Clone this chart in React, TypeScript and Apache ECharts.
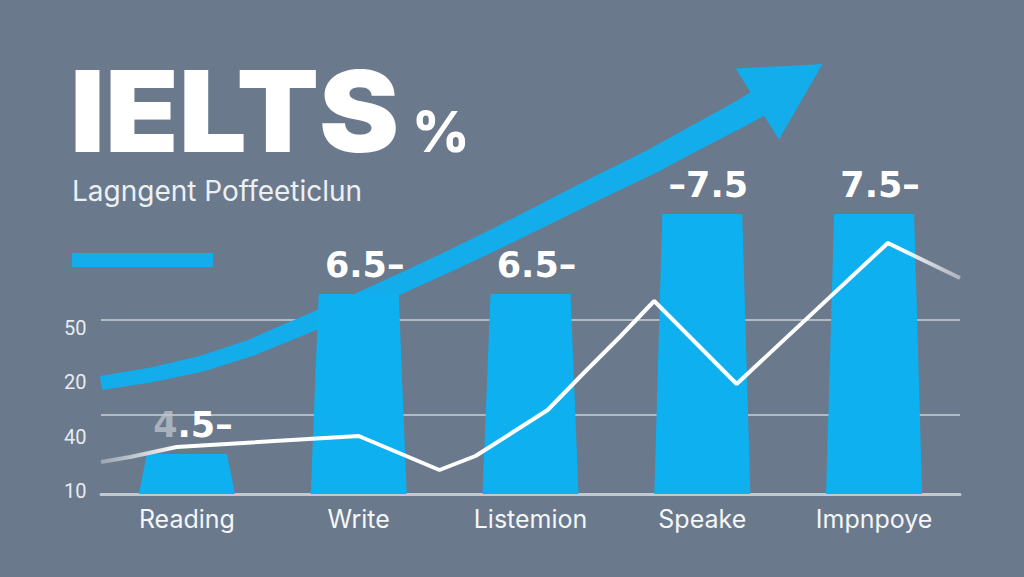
import React, { useEffect, useRef } from "react";
import * as echarts from "echarts";

// Skill areas along the bottom axis
const categories = ["Reading", "Write", "Listemion", "Speake", "Impnpoye"];
// Band score for each skill (drawn as the tapered columns)
const bandScores = [4.5, 6.5, 6.5, 7.5, 7.5];
// Which side of the number the dash of each score label sits on
const dashSide = ["after", "after", "after", "before", "after"];
// Score label whose leading digit is drawn faded
const fadedLeadIndex = 0;
// Tick labels of the small scale on the left, bottom to top
const scaleTicks = ["10", "40", "20", "50"];

// Progress line: [position along the skills, level]
const progressLine = [
  [-0.5, 8],
  [-0.33, 9.25],
  [-0.06, 11.75],
  [1.0, 14.5],
  [1.47, 6],
  [1.68, 9.5],
  [1.89, 15.25],
  [2.1, 21],
  [2.31, 30.25],
  [2.52, 39.25],
  [2.72, 48.25],
  [3.2, 27.5],
  [4.08, 62.75],
  [4.5, 54],
];

// Rising trend arrow centreline on the same scale; the last point is the tip
const trendArrow = [
  [-0.5, 27.75],
  [-0.21, 29.75],
  [0.08, 32.5],
  [0.37, 36.5],
  [0.66, 41.75],
  [0.95, 47],
  [1.24, 52.5],
  [1.53, 58.25],
  [1.82, 64.25],
  [2.11, 70.5],
  [2.4, 76.75],
  [2.7, 83],
  [2.99, 89.75],
  [3.22, 95],
  [3.32, 97.5],
  [3.7, 107.5],
];

// Horizontal guide lines on the level scale
const guideLevels = [19.75, 43.5];

const SCORE_MIN = 4;
const SCORE_MAX = 9.5;
const LEVEL_MAX = 110;

const BG = "#6a798c";
const BLUE = "#0fb0f0";
const ARROW_BLUE = "#12adea";
const TEXT = "#f4f6f8";

function arrowPolygon(api: any) {
  const pts = trendArrow.map((p) => api.coord(p));
  const shaft = pts.slice(0, pts.length - 1);
  const tip = pts[pts.length - 1];
  const startHalf = 7;
  const endHalf = 13.5;
  const headHalf = 41.5;
  const upper: number[][] = [];
  const lower: number[][] = [];
  shaft.forEach((p: number[], i: number) => {
    const a = shaft[Math.max(0, i - 1)];
    const b = shaft[Math.min(shaft.length - 1, i + 1)];
    let dx = b[0] - a[0];
    let dy = b[1] - a[1];
    const len = Math.hypot(dx, dy) || 1;
    dx /= len;
    dy /= len;
    const half = startHalf + ((endHalf - startHalf) * i) / (shaft.length - 1);
    upper.push([p[0] + dy * half, p[1] - dx * half]);
    lower.push([p[0] - dy * half, p[1] + dx * half]);
  });
  const base = shaft[shaft.length - 1];
  let hx = tip[0] - base[0];
  let hy = tip[1] - base[1];
  const hl = Math.hypot(hx, hy) || 1;
  hx /= hl;
  hy /= hl;
  const barbUp = [base[0] + hy * headHalf, base[1] - hx * headHalf];
  const barbDown = [base[0] - hy * headHalf, base[1] + hx * headHalf];
  return [...upper, barbUp, tip, barbDown, ...lower.reverse()];
}

export default function App() {
  const ref = useRef<HTMLDivElement>(null);

  useEffect(() => {
    if (!ref.current) return;
    const chart = echarts.init(ref.current, undefined, { renderer: "svg" });

    const labelFont = 'bold 35px "DejaVu Sans"';

    const option: any = {
      animation: false,
      backgroundColor: BG,
      grid: [
        { left: 101, right: 64, top: 54, bottom: 83 },
        { left: 90, width: 10, top: 328, bottom: 86 },
      ],
      xAxis: [
        {
          type: "category",
          gridIndex: 0,
          data: categories,
          boundaryGap: true,
          axisLine: { onZero: false, lineStyle: { color: "#c3c9d1", width: 3 } },
          axisTick: { show: false },
          axisLabel: {
            color: TEXT,
            fontFamily: "Inter",
            fontSize: 25,
            margin: 12,
          },
        },
        {
          type: "value",
          gridIndex: 0,
          min: -0.5,
          max: 4.5,
          show: false,
        },
        { type: "value", gridIndex: 1, show: false },
      ],
      yAxis: [
        {
          type: "value",
          gridIndex: 0,
          min: SCORE_MIN,
          max: SCORE_MAX,
          show: false,
        },
        {
          type: "value",
          gridIndex: 0,
          min: 0,
          max: LEVEL_MAX,
          show: false,
        },
        {
          type: "category",
          gridIndex: 1,
          data: scaleTicks,
          boundaryGap: false,
          axisLine: { show: false },
          axisTick: { show: false },
          splitLine: { show: false },
          axisLabel: {
            color: "#e8ecf0",
            fontFamily: "Roboto",
            fontSize: 20,
            align: "left",
            margin: 26,
          },
        },
      ],
      series: [
        {
          // guide lines
          type: "custom",
          xAxisIndex: 1,
          yAxisIndex: 1,
          z: 0,
          silent: true,
          data: guideLevels.map((v) => [-0.5, v]),
          renderItem: (params: any, api: any) => {
            const v = api.value(1);
            const a = api.coord([-0.5, v]);
            const b = api.coord([4.5, v]);
            return {
              type: "line",
              shape: { x1: a[0], y1: a[1], x2: b[0], y2: b[1] },
              style: { stroke: "rgba(196,202,210,0.8)", lineWidth: 2 },
            };
          },
        },
        {
          // rising trend arrow
          type: "custom",
          xAxisIndex: 1,
          yAxisIndex: 1,
          z: 1,
          silent: true,
          data: trendArrow,
          renderItem: (params: any, api: any) => {
            if (params.dataIndex !== 0) return null;
            return {
              type: "polygon",
              shape: { points: arrowPolygon(api) },
              style: { fill: ARROW_BLUE },
            };
          },
        },
        {
          // band score columns with their labels
          type: "custom",
          xAxisIndex: 0,
          yAxisIndex: 0,
          z: 2,
          data: bandScores.map((v, i) => [i, v]),
          encode: { x: 0, y: 1 },
          renderItem: (params: any, api: any) => {
            const i = api.value(0);
            const v = api.value(1);
            const top = api.coord([i, v]);
            const base = api.coord([i, SCORE_MIN]);
            const bottomHalf = 48;
            const topHalf = 40;
            const num = String(v);
            let text: string;
            const rich: any = {
              n: { fill: "#ffffff", font: labelFont },
              f: { fill: "rgba(190,196,204,0.75)", font: labelFont },
            };
            if (i === fadedLeadIndex) {
              text = `{f|${num.charAt(0)}}{n|${num.slice(1)}–}`;
            } else if (dashSide[i] === "before") {
              text = `{n|–${num}}`;
            } else {
              text = `{n|${num}–}`;
            }
            return {
              type: "group",
              children: [
                {
                  type: "polygon",
                  shape: {
                    points: [
                      [base[0] - bottomHalf, base[1]],
                      [top[0] - topHalf, top[1]],
                      [top[0] + topHalf, top[1]],
                      [base[0] + bottomHalf, base[1]],
                    ],
                  },
                  style: { fill: BLUE },
                },
                {
                  type: "text",
                  x: top[0] + 6,
                  y: top[1] - 12,
                  style: {
                    text,
                    rich,
                    font: labelFont,
                    fill: "#ffffff",
                    align: "center",
                    verticalAlign: "bottom",
                  },
                },
              ],
            };
          },
        },
        {
          // progress line
          type: "line",
          xAxisIndex: 1,
          yAxisIndex: 1,
          z: 3,
          silent: true,
          symbol: "none",
          smooth: false,
          data: progressLine,
          lineStyle: {
            width: 4,
            color: {
              type: "linear",
              x: 0,
              y: 0,
              x2: 1,
              y2: 0,
              colorStops: [
                { offset: 0, color: "rgba(215,220,226,0.45)" },
                { offset: 0.09, color: "#ffffff" },
                { offset: 0.93, color: "#ffffff" },
                { offset: 1, color: "rgba(225,229,234,0.55)" },
              ],
            },
          },
        },
      ],
      graphic: [
        {
          type: "text",
          x: 70,
          y: 111,
          scaleX: 1.065,
          style: {
            text: "IELTS",
            font: '900 113px Inter',
            lineHeight: 84,
            fill: "#ffffff",
            align: "left",
            verticalAlign: "middle",
          },
        },
        {
          type: "text",
          x: 412,
          y: 132,
          style: {
            text: "%",
            font: '800 56px Inter',
            lineHeight: 44,
            fill: "#ffffff",
            align: "left",
            verticalAlign: "middle",
          },
        },
        {
          type: "text",
          x: 72,
          y: 191,
          style: {
            text: "Lagngent Poffeeticlun",
            font: '400 28px Inter',
            lineHeight: 28,
            fill: "#edf0f3",
            align: "left",
            verticalAlign: "middle",
          },
        },
        {
          type: "rect",
          shape: { x: 72, y: 253, width: 141, height: 14 },
          style: { fill: ARROW_BLUE },
        },
      ],
    };

    chart.setOption(option);
    return () => chart.dispose();
  }, []);

  return (
    <div
      ref={ref}
      style={{ position: "fixed", left: 0, top: 0, width: 1024, height: 577 }}
    />
  );
}
